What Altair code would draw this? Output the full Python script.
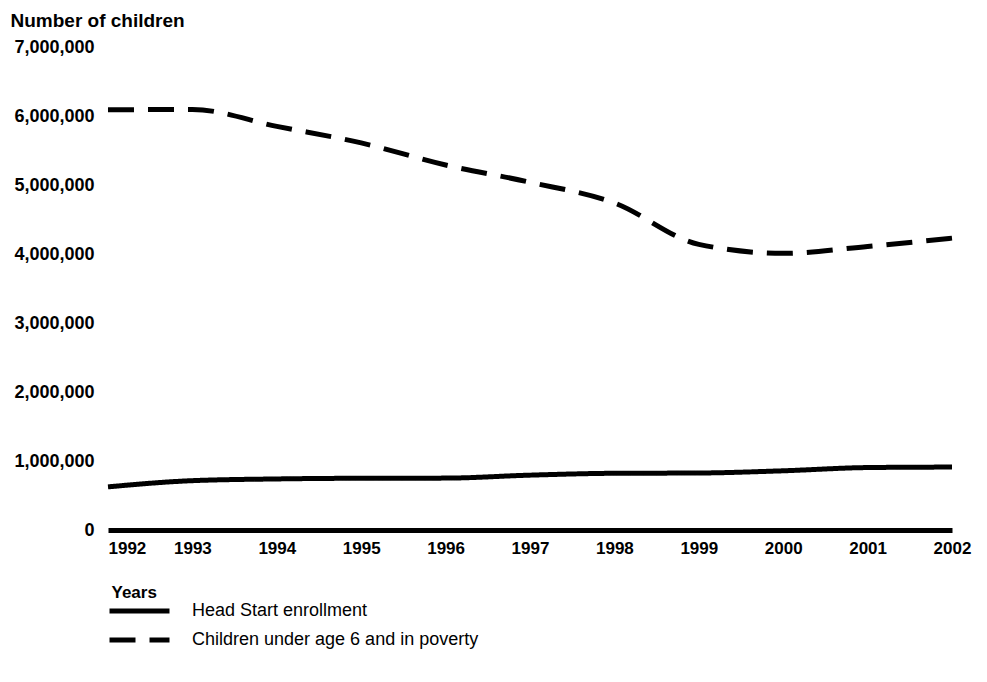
import altair as alt
import pandas as pd

years = [1992, 1993, 1994, 1995, 1996, 1997, 1998, 1999, 2000, 2001, 2002]
head_start = [625000, 715000, 740000, 750000, 752000, 795000, 822000, 826000, 858000, 905000, 912000]
poverty = [6090000, 6095000, 5850000, 5610000, 5290000, 5040000, 4740000, 4140000, 4010000, 4110000, 4230000]
series_names = ["Head Start enrollment", "Children under age 6 and in poverty"]
y_ticks = [0, 1000000, 2000000, 3000000, 4000000, 5000000, 6000000, 7000000]

rows = []
for i, yr in enumerate(years):
    rows.append({"year": yr, "value": head_start[i], "series": series_names[0]})
    rows.append({"year": yr, "value": poverty[i], "series": series_names[1]})
df = pd.DataFrame(rows)

FONT = "Liberation Sans"

chart = alt.Chart(df).mark_line(color="black", strokeWidth=5, interpolate="monotone").encode(
    x=alt.X("year:Q",
            scale=alt.Scale(domain=[1992, 2002], nice=False, zero=False),
            axis=alt.Axis(values=years, format="d", ticks=False, grid=False,
                          domain=True, domainColor="black", domainWidth=5,
                          labelFont=FONT, labelFontWeight="bold", labelFontSize=17,
                          labelColor="black", labelPadding=10, labelFlush=False,
                          labelAlign={"condition": {"test": "datum.value == 1992", "value": "left"}, "value": "center"},
                          title="Years", titleFont=FONT, titleFontWeight="bold",
                          titleFontSize=17, titleColor="black", titleAnchor="start",
                          titleAlign="left", titleBaseline="middle", titleX=3, titleY=62)),
    y=alt.Y("value:Q",
            scale=alt.Scale(domain=[0, 7000000], nice=False),
            axis=alt.Axis(values=y_ticks, format=",d", ticks=False, grid=False, domain=False,
                          labelFont=FONT, labelFontWeight="bold", labelFontSize=18,
                          labelColor="black", labelPadding=14,
                          title="Number of children", titleFont=FONT, titleFontWeight="bold",
                          titleFontSize=19, titleColor="black", titleAngle=0,
                          titleAlign="left", titleBaseline="middle", titleX=-98, titleY=-27)),
    strokeDash=alt.StrokeDash("series:N",
            scale=alt.Scale(domain=series_names, range=[[1, 0], [26, 14]]),
            legend=alt.Legend(title=None, orient="none", legendX=-1, legendY=555,
                              symbolType="stroke", symbolSize=3600, symbolStrokeWidth=5,
                              symbolStrokeColor="black", labelFont=FONT, labelFontSize=18,
                              labelColor="black", labelOffset=20, rowPadding=11,
                              clipHeight=18, labelLimit=500)),
    detail="series:N",
).properties(
    width=844, height=483,
    autosize=alt.AutoSizeParams(type="none"),
    padding={"left": 100, "top": 39, "right": 27, "bottom": 140},
).configure(background="white").configure_view(strokeWidth=0, stroke="transparent")

chart.save("out.html", embed_options={"renderer": "svg", "actions": False})
